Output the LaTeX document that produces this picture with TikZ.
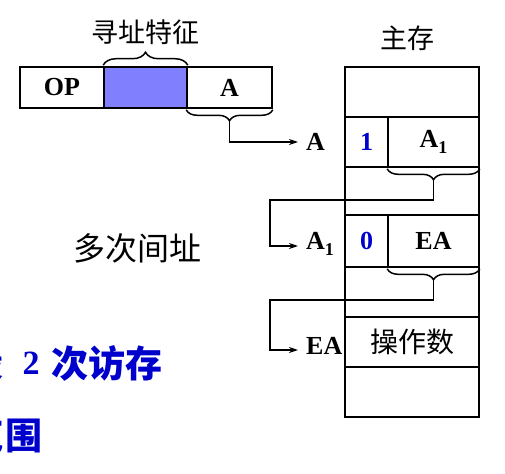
\documentclass[tikz,border=0pt]{standalone}
\usepackage{fontspec}
\setmainfont{Liberation Serif}
\newfontfamily\cjk{Noto Sans CJK SC}
\usetikzlibrary{decorations.pathreplacing,arrows.meta}
\definecolor{fieldblue}{RGB}{128,128,255}
\definecolor{txtblue}{RGB}{0,0,204}
\begin{document}
\begin{tikzpicture}[x=1pt,y=-1pt,
  cell/.style={draw, line width=1.6pt, inner sep=0pt, font=\fontsize{26}{30}\selectfont\bfseries},
  lbl/.style={anchor=west, inner xsep=8pt, inner ysep=0pt, font=\fontsize{26}{30}\selectfont\bfseries},
  cjktxt/.style={inner sep=0pt},
  brc/.style={decorate, decoration={brace, amplitude=#1}, line width=1.5pt},
  conn/.style={line width=1.3pt, -{Stealth[length=9pt,width=6pt]}},
  flag/.style={text=txtblue}
]
\useasboundingbox (0,0) rectangle (505,473);
% instruction word
\node[cell, minimum width=84pt, minimum height=41pt] (op) at (62,87.5) {OP};
\node[cell, fill=fieldblue, minimum width=83pt, minimum height=41pt] (feat) at (145.5,87.5) {};
\node[cell, minimum width=85pt, minimum height=41pt] (af) at (229.5,87.5) {A};
\node[cjktxt, font=\cjk\fontsize{27}{30}\selectfont] (featlbl) at (145,32) {寻址特征};
\draw[brc=13pt] (feat.north west) ++(0,-1) -- ([yshift=1pt]feat.north east);
\draw[brc=11pt] (af.south east) ++(0,1) -- ([yshift=-1pt]af.south west);
\coordinate (ta) at (229.5,120);
% memory
\node[cjktxt, font=\cjk\fontsize{27}{30}\selectfont] (mainmem) at (407,38) {主存};
\node[cell, minimum width=134pt, minimum height=50pt] (m0) at (412,92) {};
\node[cell, flag, minimum width=43pt, minimum height=50pt] (f1) at (366.5,142) {1};
\node[cell, minimum width=91pt, minimum height=50pt] (a1) at (433.5,142) {A\raisebox{-6pt}{\fontsize{18}{18}\selectfont 1}};
\node[cell, minimum width=134pt, minimum height=48pt] (m2) at (412,191) {};
\node[cell, flag, minimum width=43pt, minimum height=52pt] (f3) at (366.5,241) {0};
\node[cell, minimum width=91pt, minimum height=52pt] (ea) at (433.5,241) {EA};
\node[cell, minimum width=134pt, minimum height=50pt] (m4) at (412,292) {};
\node[cell, minimum width=134pt, minimum height=50pt, font=\cjk\fontsize{28}{30}\selectfont] (m5) at (412,342) {操作数};
\node[cell, minimum width=134pt, minimum height=50pt] (m6) at (412,392) {};
\draw[brc=11pt] (a1.south east) ++(0,1) -- ([yshift=-1pt]a1.south west);
\draw[brc=11pt] (ea.south east) ++(0,1) -- ([yshift=-1pt]ea.south west);
\coordinate (tb) at (433.5,179);
\coordinate (tc) at (433.5,279);
\coordinate (kb) at (270,200);
\coordinate (kc) at (270,300);
% labels
\node[lbl] (la) at (298,142) {A};
\node[lbl] (la1) at (298,244) {A\raisebox{-6pt}{\fontsize{18}{18}\selectfont 1}};
\node[lbl] (lea) at (298,346) {EA};
\draw[conn] (ta) |- (la.west);
\draw[conn] (tb) |- (kb) |- ([yshift=-2pt]la1.west);
\draw[conn] (tc) |- (kc) |- ([yshift=-4pt]lea.west);
% texts
\node[cjktxt, font=\cjk\fontsize{32}{34}\selectfont] (multi) at (137,248) {多次间址};
\node[cjktxt, anchor=east, text=txtblue, font=\cjk\bfseries\fontsize{37}{40}\selectfont] (t1a) at (4,363) {段};
\node[cjktxt, text=txtblue, font=\fontsize{34}{36}\selectfont\bfseries] (t1b) at (31,363) {2};
\node[cjktxt, anchor=west, text=txtblue, font=\cjk\bfseries\fontsize{37}{40}\selectfont] (t1c) at (51,363) {次访存};
\node[cjktxt, anchor=west, text=txtblue, font=\cjk\bfseries\fontsize{37}{40}\selectfont] (t2b) at (5,436) {围};
\node[cjktxt, anchor=east, text=txtblue, font=\cjk\bfseries\fontsize{37}{40}\selectfont] (t2a) at ([xshift=-1pt]t2b.west) {范};
\end{tikzpicture}
\end{document}
